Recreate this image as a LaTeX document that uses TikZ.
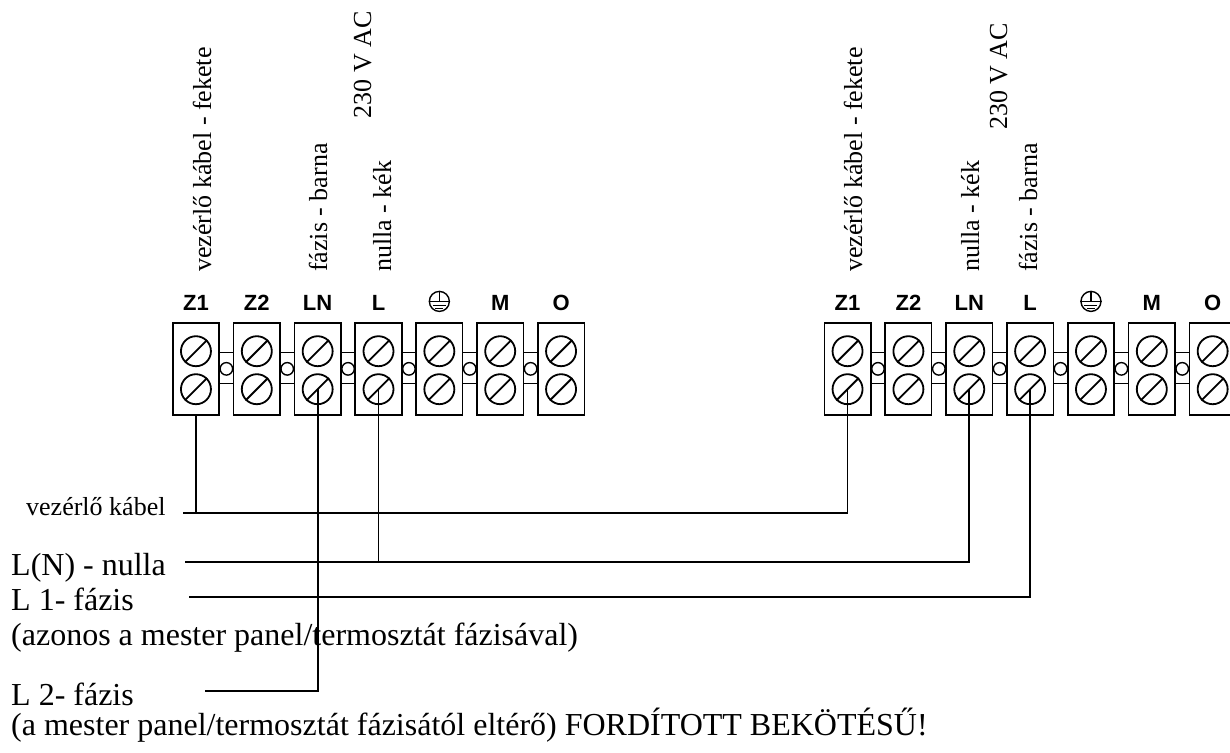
\documentclass[tikz,border=0pt]{standalone}
\usepackage{fontspec}
\setmainfont{Liberation Serif}
\setsansfont{Liberation Sans}
\usepackage{tikz}
\usetikzlibrary{calc}

\newcommand{\betu}[1]{\fontsize{#1}{#1}\selectfont}

\tikzset{
  klemme/.style={draw, line width=1.6pt, minimum width=46.5pt, minimum height=92.3pt, inner sep=0pt},
  csavar/.style={draw, circle, line width=1.8pt, minimum size=30pt, inner sep=0pt},
  hid/.style={draw, circle, line width=1.4pt, minimum size=12.5pt, inner sep=0pt},
  foldjel/.style={draw, circle, line width=1.4pt, minimum size=20pt, inner sep=0pt},
  jel/.style={font=\sffamily\bfseries\betu{22}, anchor=base, inner sep=0pt},
  oszlop/.style={rotate=90, anchor=base west, inner sep=0pt, font=\betu{26}},
  szoveg/.style={anchor=base west, inner sep=0pt, font=\betu{32}},
  vezetek/.style={line width=1.8pt},
}

\begin{document}
\begin{tikzpicture}[x=1pt, y=-1pt]
\useasboundingbox (0,0) rectangle (1230,752);

% sorkapcsok
\foreach \b/\xo in {a/172.7, b/824.3}{
  \foreach \t [count=\i from 0] in {Z1, Z2, LN, L, PE, M, O}{
    \node[klemme] (\b-\t) at ({\xo+\i*60.85+23.25}, 368.85) {};
    \node[csavar] (\b-\t-f) at ($(\b-\t.north)+(0,29.3)$) {};
    \node[csavar] (\b-\t-a) at ($(\b-\t.north)+(0,67.3)$) {};
    \draw[line width=1.8pt] (\b-\t-f.225) -- (\b-\t-f.45);
    \draw[line width=1.8pt] (\b-\t-a.225) -- (\b-\t-a.45);
  }
  \foreach \t in {Z1, Z2, LN, L, M, O}
    \node[jel] (\b-\t-jel) at ($(\b-\t.north)+(0,-11)$) {\t};
  \foreach \p/\t in {Z1/Z2, Z2/LN, LN/L, L/PE, PE/M, M/O}{
    \draw[line width=1.4pt] ($(\b-\p.north east)+(0,30.6)$) -- ($(\b-\t.north west)+(0,30.6)$);
    \draw[line width=1.4pt] ($(\b-\p.north east)+(0,61.3)$) -- ($(\b-\t.north west)+(0,61.3)$);
    \node[hid] (\b-\p-\t) at ($(\b-\p.east)!0.5!(\b-\t.west)$) {};
  }
  % foldeles jele
  \node[foldjel] (\b-fold) at ($(\b-PE.north)+(0,-20.5)$) {};
  \draw[line width=1.4pt] (\b-fold.north) -- (\b-fold.center);
  \draw[line width=1.4pt] (\b-fold.west) -- (\b-fold.east);
  \draw[line width=1.4pt] ($(\b-fold.center)+(-6.5,4)$) -- ($(\b-fold.center)+(6.5,4)$);
  \draw[line width=1.4pt] ($(\b-fold.center)+(-4,7.2)$) -- ($(\b-fold.center)+(4,7.2)$);
}

% feliratok a kapcsok felett
\node[oszlop] (a-vk) at (211,272) {vezérlő kábel - fekete};
\node[oszlop] (a-fb) at (327,272) {fázis - barna};
\node[oszlop] (a-ac) at (371,118.3) {230 V AC};
\node[oszlop] (a-nk) at (391,272) {nulla - kék};
\node[oszlop] (b-vk) at (862,272) {vezérlő kábel - fekete};
\node[oszlop] (b-nk) at (979,272) {nulla - kék};
\node[oszlop] (b-ac) at (1007,130) {230 V AC};
\node[oszlop] (b-fb) at (1037,272) {fázis - barna};

% also szovegek
\node[szoveg, font=\betu{26}] (vk-txt) at (26,515) {vezérlő kábel};
\node[szoveg] (nu-txt) at (11,575) {L(N) - nulla};
\node[szoveg] (f1-txt) at (11,610) {L 1- fázis};
\node[szoveg] (f1-meg) at (11,645) {(azonos a mester panel/termosztát fázisával)};
\node[szoveg] (f2-txt) at (11,705) {L 2- fázis};
\node[szoveg] (f2-meg) at (11,735) {(a mester panel/termosztát fázisától eltérő) FORDÍTOTT BEKÖTÉSŰ!};

% vezetekek
\coordinate (vk) at (183.3,513.3);
\coordinate (nu) at (185,561.7);
\coordinate (f1) at (189,597.3);
\coordinate (f2) at (205,690.7);
\draw[vezetek] (a-Z1.south) -- (a-Z1.south |- vk);
\draw[vezetek] (vk) -| (b-Z1-a.center);
\draw[vezetek] (a-L-a.center) -- (a-L-a.center |- nu);
\draw[vezetek] (nu) -| (b-LN-a.center);
\draw[vezetek] (f1) -| (b-L-a.center);
\draw[vezetek] (a-LN-a.center) |- (f2);
\end{tikzpicture}
\end{document}
